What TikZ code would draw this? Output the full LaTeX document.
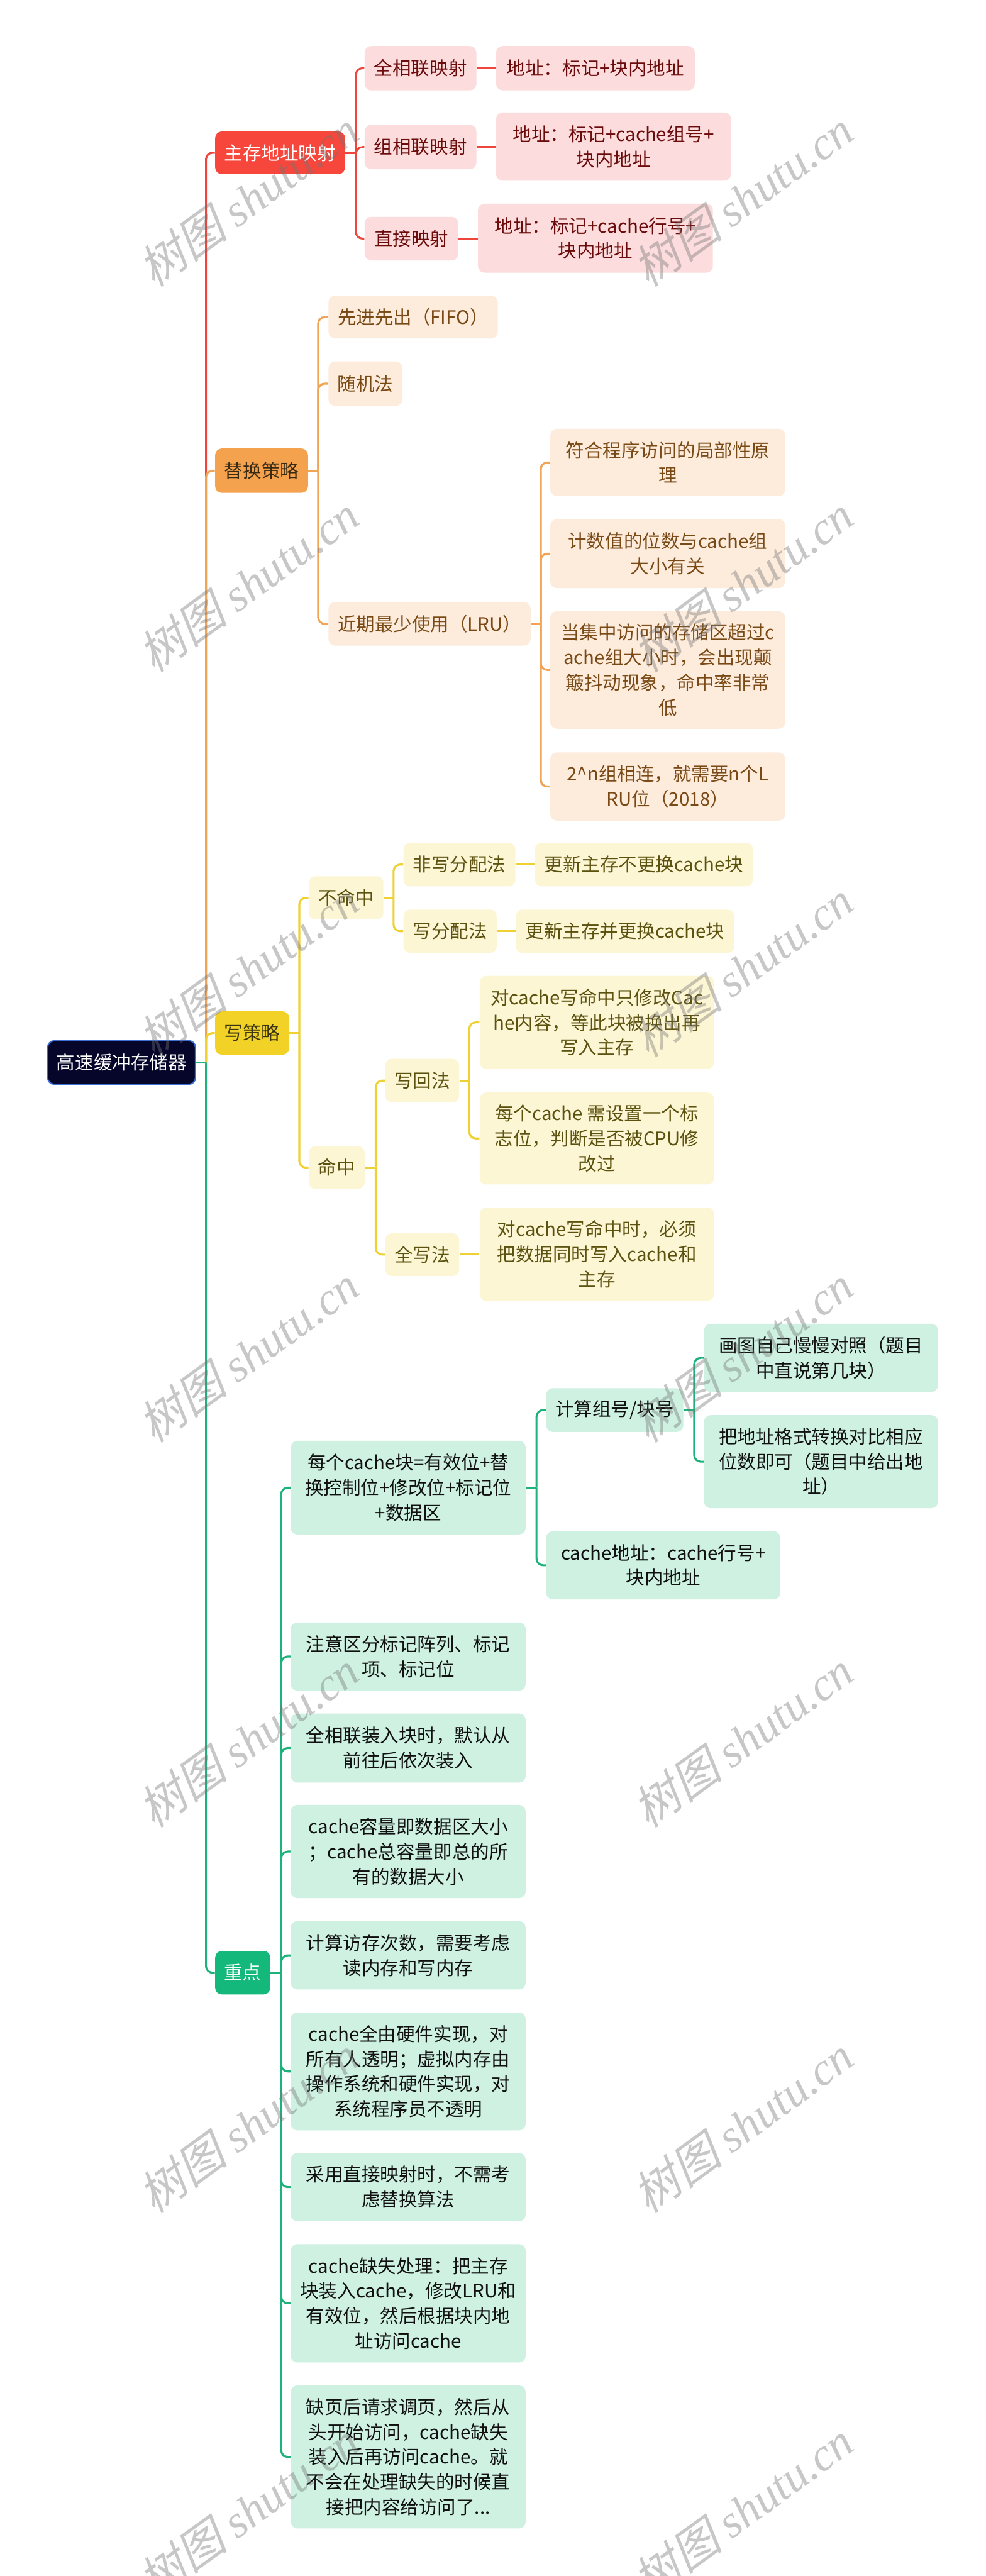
\documentclass[tikz,border=0pt]{standalone}
\usepackage{fontspec}
\setmainfont{Noto Sans CJK SC}
\newfontfamily\wmcjk[FakeSlant=0.25]{Noto Sans CJK SC}
\newfontfamily\wmlat{Liberation Serif}
\usepackage{xcolor}
\usepackage{tikz}
\usetikzlibrary{positioning}

\definecolor{rootbg}{HTML}{06062B}
\definecolor{rootedge}{HTML}{3B6FD2}
\definecolor{redmainbg}{HTML}{F7463C}
\definecolor{redsubbg}{HTML}{FCDCDC}
\definecolor{redtxt}{HTML}{6B0B0B}
\definecolor{redln}{HTML}{F0453D}
\definecolor{orgmainbg}{HTML}{F4A24E}
\definecolor{orgmaintxt}{HTML}{3A2A12}
\definecolor{orgsubbg}{HTML}{FDEBDC}
\definecolor{orgtxt}{HTML}{7A4A16}
\definecolor{orgln}{HTML}{F2A456}
\definecolor{yelmainbg}{HTML}{F2D227}
\definecolor{yelmaintxt}{HTML}{3A3412}
\definecolor{yelsubbg}{HTML}{FDF6D5}
\definecolor{yeltxt}{HTML}{5C5210}
\definecolor{yelln}{HTML}{F0D134}
\definecolor{grnmainbg}{HTML}{14B87A}
\definecolor{grnsubbg}{HTML}{CEF1E2}
\definecolor{grntxt}{HTML}{111111}
\definecolor{grnln}{HTML}{1DB27C}

\tikzset{
  nodebase/.style={rounded corners=4pt, inner sep=0pt, align=center,
    font=\fontsize{11.3}{15.2}\selectfont},
  wh/.style 2 args={minimum width=#1pt, minimum height=#2pt},
  rootbox/.style={nodebase, fill=rootbg, draw=rootedge, line width=0.8pt, text=white},
  redmain/.style={nodebase, fill=redmainbg, text=white},
  redsub/.style={nodebase, fill=redsubbg, text=redtxt},
  orgmain/.style={nodebase, fill=orgmainbg, text=orgmaintxt},
  orgsub/.style={nodebase, fill=orgsubbg, text=orgtxt},
  yelmain/.style={nodebase, fill=yelmainbg, text=yelmaintxt},
  yelsub/.style={nodebase, fill=yelsubbg, text=yeltxt},
  grnmain/.style={nodebase, fill=grnmainbg, text=white},
  grnsub/.style={nodebase, fill=grnsubbg, text=grntxt},
  redline/.style={draw=redln, line width=1.2pt, rounded corners=4pt},
  orgline/.style={draw=orgln, line width=1.2pt, rounded corners=4pt},
  yelline/.style={draw=yelln, line width=1.2pt, rounded corners=4pt},
  grnline/.style={draw=grnln, line width=1.2pt, rounded corners=4pt},
  shutumark/.style={rotate=36, text=black!55, text opacity=0.4,
    font=\fontsize{28}{28}\selectfont}
}

\begin{document}
\begin{tikzpicture}[x=1pt,y=-1pt]
\path[fill=white,use as bounding box] (0,0) rectangle (600,1568);

\node[rootbox,wh={90}{26.5}] (cache) at (74,646.75) {高速缓冲存储器};

\node[redmain,wh={79}{26}] (map) at (170.5,93) {主存地址映射};
\node[orgmain,wh={56.5}{27}] (repl) at (159.25,286.5) {替换策略};
\node[yelmain,wh={45}{26.4}] (wpol) at (153.5,628.8) {写策略};
\node[grnmain,wh={33.5}{26.5}] (key) at (147.75,1200.75) {重点};

% main memory mapping
\node[redsub,wh={68}{27}] (full) at (256,41.5) {全相联映射};
\node[redsub,wh={121}{27}] (fulla) at (362.5,41.5) {地址：标记+块内地址};
\node[redsub,wh={68}{27}] (set) at (256,89.5) {组相联映射};
\node[redsub,wh={143}{41.5}] (seta) at (373.5,89.25) {地址：标记+cache组号+\\块内地址};
\node[redsub,wh={57}{26.5}] (direct) at (250.5,145.25) {直接映射};
\node[redsub,wh={143}{42}] (directa) at (362.5,145) {地址：标记+cache行号+\\块内地址};

% replacement
\node[orgsub,wh={103}{26}] (fifo) at (251.5,193) {先进先出（FIFO）};
\node[orgsub,wh={45}{27}] (rand) at (222.5,233.5) {随机法};
\node[orgsub,wh={123}{26.5}] (lru) at (261.5,379.75) {近期最少使用（LRU）};
\node[orgsub,wh={143}{41}] (lru1) at (406.5,281.5) {符合程序访问的局部性原\\理};
\node[orgsub,wh={143}{42}] (lru2) at (406.5,337) {计数值的位数与cache组\\大小有关};
\node[orgsub,wh={143}{71.6}] (lru3) at (406.5,407.8) {当集中访问的存储区超过c\\ache组大小时，会出现颠\\簸抖动现象，命中率非常\\低};
\node[orgsub,wh={143}{41.5}] (lru4) at (406.5,478.75) {2\textasciicircum n组相连，就需要n个L\\RU位（2018）};

% write policy
\node[yelsub,wh={45.4}{26.3}] (miss) at (210.7,546.5) {不命中};
\node[yelsub,wh={68.2}{26.5}] (nwa) at (279.7,526.25) {非写分配法};
\node[yelsub,wh={132.8}{26.5}] (nwa1) at (392,526.25) {更新主存不更换cache块};
\node[yelsub,wh={56.7}{26.3}] (wa) at (274,566.85) {写分配法};
\node[yelsub,wh={133}{26.3}] (wa1) at (380.5,566.85) {更新主存并更换cache块};
\node[yelsub,wh={34}{26}] (hit) at (205,710.7) {命中};
\node[yelsub,wh={45}{26.5}] (wb) at (257,657.75) {写回法};
\node[yelsub,wh={142.7}{56.6}] (wb1) at (363.35,622.3) {对cache写命中只修改Cac\\he内容，等此块被换出再\\写入主存};
\node[yelsub,wh={142.7}{56}] (wb2) at (363.35,693) {每个cache 需设置一个标\\志位，判断是否被CPU修\\改过};
\node[yelsub,wh={45}{26}] (wt) at (257,763.65) {全写法};
\node[yelsub,wh={142.7}{56.8}] (wt1) at (363.35,763.4) {对cache写命中时，必须\\把数据同时写入cache和\\主存};

% key points
\node[grnsub,wh={143}{57}] (blk) at (248.5,905.5) {每个cache块=有效位+替\\换控制位+修改位+标记位\\+数据区};
\node[grnsub,wh={83.5}{26.6}] (calc) at (374.25,858.3) {计算组号/块号};
\node[grnsub,wh={142.4}{41.5}] (calc1) at (499.8,826.55) {画图自己慢慢对照（题目\\中直说第几块）};
\node[grnsub,wh={142.4}{56.6}] (calc2) at (499.8,889.7) {把地址格式转换对比相应\\位数即可（题目中给出地\\址）};
\node[grnsub,wh={142.5}{41.5}] (caddr) at (403.75,952.75) {cache地址：cache行号+\\块内地址};
\node[grnsub,wh={143}{41.4}] (k2) at (248.5,1008.3) {注意区分标记阵列、标记\\项、标记位};
\node[grnsub,wh={143}{42}] (k3) at (248.5,1064) {全相联装入块时，默认从\\前往后依次装入};
\node[grnsub,wh={143}{56.7}] (k4) at (248.5,1127) {cache容量即数据区大小\\；cache总容量即总的所\\有的数据大小};
\node[grnsub,wh={143}{41.6}] (k5) at (248.5,1190.2) {计算访存次数，需要考虑\\读内存和写内存};
\node[grnsub,wh={143}{71.7}] (k6) at (248.5,1260.85) {cache全由硬件实现，对\\所有人透明；虚拟内存由\\操作系统和硬件实现，对\\系统程序员不透明};
\node[grnsub,wh={143}{41.5}] (k7) at (248.5,1331.25) {采用直接映射时，不需考\\虑替换算法};
\node[grnsub,wh={143}{72}] (k8) at (248.5,1402) {cache缺失处理：把主存\\块装入cache，修改LRU和\\有效位，然后根据块内地\\址访问cache};
\node[grnsub,wh={143}{87}] (k9) at (248.5,1495.5) {缺页后请求调页，然后从\\头开始访问，cache缺失\\装入后再访问cache。就\\不会在处理缺失的时候直\\接把内容给访问了...};

% trunk
\draw[grnline] (cache.east) -- ++(6,0) coordinate (jt);
\foreach \m/\ln in {map/redline,repl/orgline,wpol/yelline,key/grnline}
  \draw[\ln] (jt) |- (\m.west);

\draw[redline] (map.east) -- ++(6.5,0) coordinate (jr);
\foreach \c in {full,set,direct} \draw[redline] (jr) |- (\c.west);
\foreach \src/\dst in {full/fulla,set/seta,direct/directa}
  \draw[redline] (\src.east) -- (\src.east -| \dst.west);

\draw[orgline] (repl.east) -- ++(6,0) coordinate (jo);
\foreach \c in {fifo,rand,lru} \draw[orgline] (jo) |- (\c.west);
\draw[orgline] (lru.east) -- ++(6,0) coordinate (jl);
\foreach \c in {lru1,lru2,lru3,lru4} \draw[orgline] (jl) |- (\c.west);

\draw[yelline] (wpol.east) -- ++(6,0) coordinate (jy);
\foreach \c in {miss,hit} \draw[yelline] (jy) |- (\c.west);
\draw[yelline] (miss.east) -- ++(6,0) coordinate (jmiss);
\foreach \c in {nwa,wa} \draw[yelline] (jmiss) |- (\c.west);
\foreach \src/\dst in {nwa/nwa1,wa/wa1,wt/wt1}
  \draw[yelline] (\src.east) -- (\src.east -| \dst.west);
\draw[yelline] (hit.east) -- ++(6.5,0) coordinate (jhit);
\foreach \c in {wb,wt} \draw[yelline] (jhit) |- (\c.west);
\draw[yelline] (wb.east) -- ++(6,0) coordinate (jwb);
\foreach \c in {wb1,wb2} \draw[yelline] (jwb) |- (\c.west);

\draw[grnline] (key.east) -- ++(6.5,0) coordinate (jk);
\foreach \c in {blk,k2,k3,k4,k5,k6,k7,k8,k9} \draw[grnline] (jk) |- (\c.west);
\draw[grnline] (blk.east) -- ++(6.4,0) coordinate (jblk);
\foreach \c in {calc,caddr} \draw[grnline] (jblk) |- (\c.west);
\draw[grnline] (calc.east) -- ++(6.4,0) coordinate (jcalc);
\foreach \c in {calc1,calc2} \draw[grnline] (jcalc) |- (\c.west);

% watermarks
\foreach \y [count=\i] in {121,355.5,590,824.5,1059,1293.5,1528} {
  \node[shutumark] (wml\i) at (151,\y) {\wmcjk 树图 \wmlat\itshape shutu.cn};
  \node[shutumark] (wmr\i) at (452,\y) {\wmcjk 树图 \wmlat\itshape shutu.cn};
}
\end{tikzpicture}
\end{document}
